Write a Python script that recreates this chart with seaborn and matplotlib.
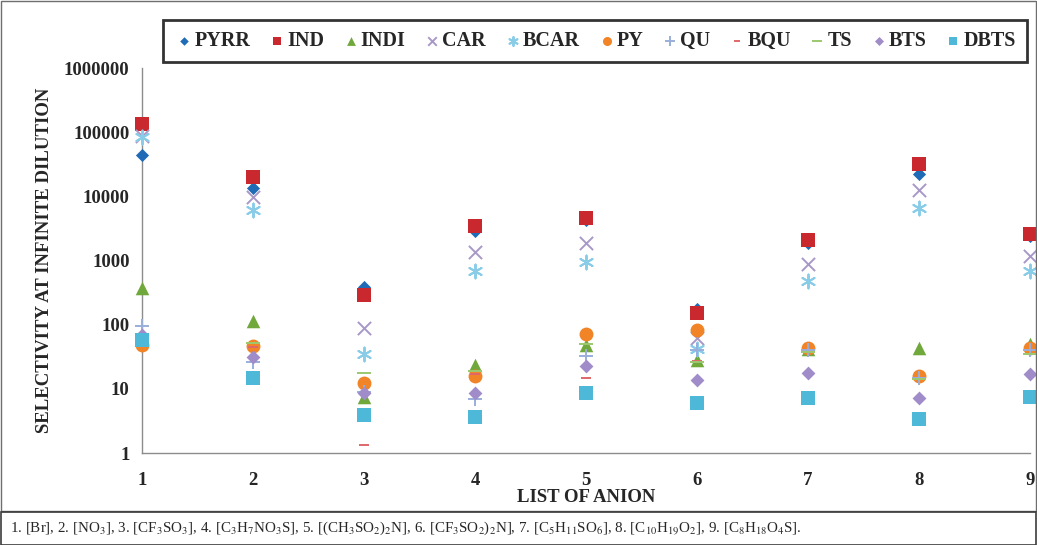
import numpy as np
import pandas as pd
import matplotlib
matplotlib.use("Agg")
import matplotlib.pyplot as plt
import seaborn as sns
from matplotlib.patches import Rectangle
from matplotlib.ticker import FixedLocator, FuncFormatter, NullLocator

# Anion index on the x axis
anions = [1, 2, 3, 4, 5, 6, 7, 8, 9]

# Selectivity at infinite dilution for each solute
PYRR = [44000, 13500, 385, 2900, 4300, 175, 1900, 22000, 2400]
IND = [133000, 20000, 290, 3500, 4600, 150, 2100, 31500, 2600]
INDI = [370, 114, 7.5, 23.5, 48, 28, 42, 43, 50]
CAR = [87000, 9800, 89, 1350, 1870, 62, 880, 12500, 1170]
BCAR = [85000, 6100, 35, 680, 950, 42, 480, 6600, 680]
PY = [48, 46, 12.3, 16, 71, 83, 43, 16, 43]
QU = [95, 26, 9, 7, 32, 40, 40, 15, 40]
BQU = [55, 45, 1.33, 17, 15, 27, 8.0, 3.6, 8.6]
TS = [55, 52, 17.6, 19, 50, 26, 37, 14, 35]
BTS = [68, 31, 8.6, 8.6, 22.6, 13.7, 17.6, 7.2, 17]
DBTS = [57, 15, 3.9, 3.7, 8.6, 6.0, 7.3, 3.4, 7.5]

series_names = ["PYRR", "IND", "INDI", "CAR", "BCAR", "PY", "QU", "BQU", "TS", "BTS", "DBTS"]
series_values = [PYRR, IND, INDI, CAR, BCAR, PY, QU, BQU, TS, BTS, DBTS]

ytick_values = [1, 10, 100, 1000, 10000, 100000, 1000000]

caption = ("1. [Br], 2. [NO$_3$], 3. [CF$_3$SO$_3$], 4. [C$_3$H$_7$NO$_3$S], "
           "5. [(CH$_3$SO$_2$)$_2$N], 6. [CF$_3$SO$_2$)$_2$N], 7. [C$_5$H$_{11}$SO$_6$], "
           "8. [C$_{10}$H$_{19}$O$_2$], 9. [C$_8$H$_{18}$O$_4$S].")

# Marker styles: (marker, colour, size, filled)
styles = {
    "PYRR": ("D", "#1F6BB6", 45, True),
    "IND": ("s", "#C8282E", 90, True),
    "INDI": ("^", "#70A83C", 95, True),
    "CAR": ("x", "#A898C8", 90, False),
    "BCAR": ((6, 2, 0), "#88CCE8", 100, False),
    "PY": ("o", "#F08426", 100, True),
    "QU": ("+", "#9AAEDC", 100, False),
    "BQU": ("_", "#E0676A", 45, False),
    "TS": ("_", "#9CC870", 100, False),
    "BTS": ("D", "#A08CC8", 50, True),
    "DBTS": ("s", "#4DB8D8", 90, True),
}

df = pd.DataFrame({"anion": anions})
for name, vals in zip(series_names, series_values):
    df[name] = vals

sns.set_theme(style="white")
plt.rcParams["font.family"] = ["Liberation Serif", "DejaVu Serif"]
plt.rcParams["mathtext.fontset"] = "stix"

W, H = 1037, 545
fig = plt.figure(figsize=(W / 100, H / 100), dpi=100)
ax = fig.add_axes([142 / W, 1 - 453 / H, (1030 - 142) / W, (453 - 68) / H])

for name in series_names:
    marker, color, size, filled = styles[name]
    kw = dict(edgecolor=color, linewidth=0) if filled else dict(linewidth=1.4)
    sns.scatterplot(data=df, x="anion", y=name, marker=marker, s=size, color=color,
                    ax=ax, label=name, clip_on=False, zorder=3, **kw)

ax.set_yscale("log")
ax.set_ylim(1, 1e6)
ax.set_xlim(1, 9)
ax.yaxis.set_major_locator(FixedLocator(ytick_values))
ax.yaxis.set_minor_locator(NullLocator())
ax.yaxis.set_major_formatter(FuncFormatter(lambda v, p: f"{int(round(v))}"))
ax.set_xticks(anions)
ax.set_xticklabels([str(a) for a in anions])

for side in ["top", "right"]:
    ax.spines[side].set_visible(False)
for side in ["left", "bottom"]:
    ax.spines[side].set_color("#8C8C8C")
    ax.spines[side].set_linewidth(1.0)

ax.tick_params(axis="both", which="major", direction="out", length=4, width=1,
               color="#8C8C8C", labelsize=13.5)
ax.tick_params(axis="x", pad=10)
ax.tick_params(axis="y", pad=5)
for lab in ax.get_xticklabels() + ax.get_yticklabels():
    lab.set_fontweight("bold")

ax.set_xlabel("LIST OF ANION", fontsize=13.5, fontweight="bold", labelpad=0)
ax.set_ylabel("SELECTIVITY AT INFINITE DILUTION", fontsize=13.5, fontweight="bold", labelpad=8)

handles, labels = ax.get_legend_handles_labels()
if ax.get_legend() is not None:
    ax.get_legend().remove()
leg = fig.legend(handles, labels, ncol=11, loc="lower left", mode="expand",
                 bbox_to_anchor=(163 / W, 1 - 62 / H, 864 / W, 40 / H),
                 frameon=True, fancybox=False, markerscale=0.65,
                 handletextpad=0.0, handlelength=1.0, borderaxespad=0.0,
                 borderpad=0.55,
                 prop={"weight": "bold", "size": 14.5})
leg.get_frame().set_edgecolor("black")
leg.get_frame().set_linewidth(2.0)

# Chart border and caption box
fig.patches.append(Rectangle((0.5 / W, 1 - 511 / H), (W - 1.5) / W, 510 / H,
                             transform=fig.transFigure, fill=False,
                             edgecolor="#6E6E6E", linewidth=1.0))
fig.patches.append(Rectangle((0.5 / W, 0.5 / H), (W - 1.5) / W, 33 / H,
                             transform=fig.transFigure, fill=False,
                             edgecolor="#3C3C3C", linewidth=1.2))
fig.text(10 / W, 1 - 528 / H, caption, fontsize=10.8, va="center", ha="left")

fig.savefig("out.png", dpi=100)
